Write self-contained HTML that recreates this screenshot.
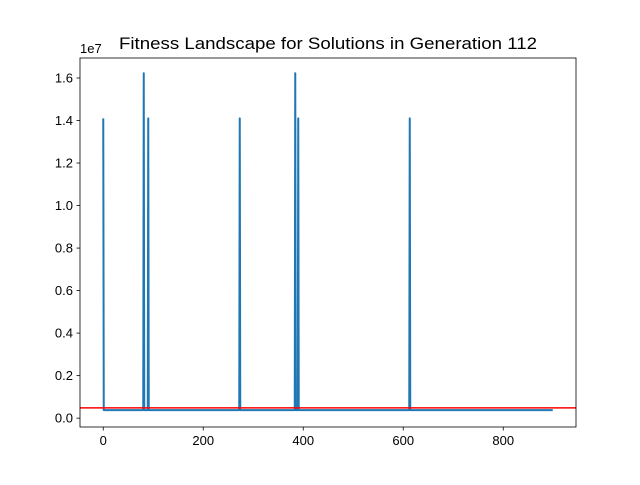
<!DOCTYPE html>
<html><head><meta charset="utf-8"><style>
body{margin:0;background:#fff;}
svg text{font-family:"Liberation Sans","DejaVu Sans",sans-serif;fill:#000;}
</style></head><body>
<svg id="chart" width="640" height="480" viewBox="0 0 640 480" xmlns="http://www.w3.org/2000/svg">
<rect width="640" height="480" fill="#fff"/>
<text x="328" y="49" text-anchor="middle" font-size="16.5" textLength="418" lengthAdjust="spacingAndGlyphs">Fitness Landscape for Solutions in Generation 112</text>
<g id="plot"></g>
</svg>
<script>
const numPoints = 900;
const baselineFitness = 376000;
const spikeIndices = [0, 81, 90, 273, 384, 390, 613];
const spikeValues = [14100000, 16220000, 14100000, 14100000, 16220000, 14100000, 14100000];
const thresholdValue = 485000;
const xTicks = [0, 200, 400, 600, 800];
const yTicks = [0, 0.2, 0.4, 0.6, 0.8, 1.0, 1.2, 1.4, 1.6];

const L=80,R=576,T=58,B=427;
const xMin=-46.5,xMax=945.5,yMin=-416000,yMax=16940000;
const sx=v=>L+(v-xMin)/(xMax-xMin)*(R-L);
const sy=v=>B-(v-yMin)/(yMax-yMin)*(B-T);
const NS="http://www.w3.org/2000/svg";
const g=document.getElementById('plot');
function mk(tag,attrs){const e=document.createElementNS(NS,tag);for(const k in attrs)e.setAttribute(k,attrs[k]);g.appendChild(e);return e;}

const vals=new Array(numPoints).fill(baselineFitness);
spikeIndices.forEach((ix,i)=>{vals[ix]=spikeValues[i];});
let d='';
vals.forEach((v,i)=>{d+=(i?'L':'M')+sx(i).toFixed(2)+','+sy(v).toFixed(2);});
const line=mk('path',{d:d,fill:'none',stroke:'#1f77b4','stroke-width':2,'stroke-linejoin':'round'});



const th=mk('line',{x1:L,x2:R,y1:sy(thresholdValue),y2:sy(thresholdValue),stroke:'#ff0000','stroke-width':1.5});



const frame=mk('rect',{x:L,y:T,width:R-L,height:B-T,fill:'none',stroke:'#000','stroke-width':0.8});



xTicks.forEach(t=>{
  const x=sx(t);
  const tk=mk('line',{x1:x,x2:x,y1:B,y2:B+3.5,stroke:'#000','stroke-width':0.8});
  
  
  const tx=mk('text',{x:x,y:B+18,'text-anchor':'middle','font-size':13});
  tx.textContent=t;
  
  
});
yTicks.forEach(t=>{
  const y=sy(t*1e7);
  const tk=mk('line',{x1:L-3.5,x2:L,y1:y,y2:y,stroke:'#000','stroke-width':0.8});
  
  
  const tx=mk('text',{x:L-7,y:y+4.5,'text-anchor':'end','font-size':13});
  tx.textContent=t.toFixed(1);
  
  
});
const off=mk('text',{x:L,y:T-5,'font-size':13});
off.textContent='1e7';


</script>
</body></html>
